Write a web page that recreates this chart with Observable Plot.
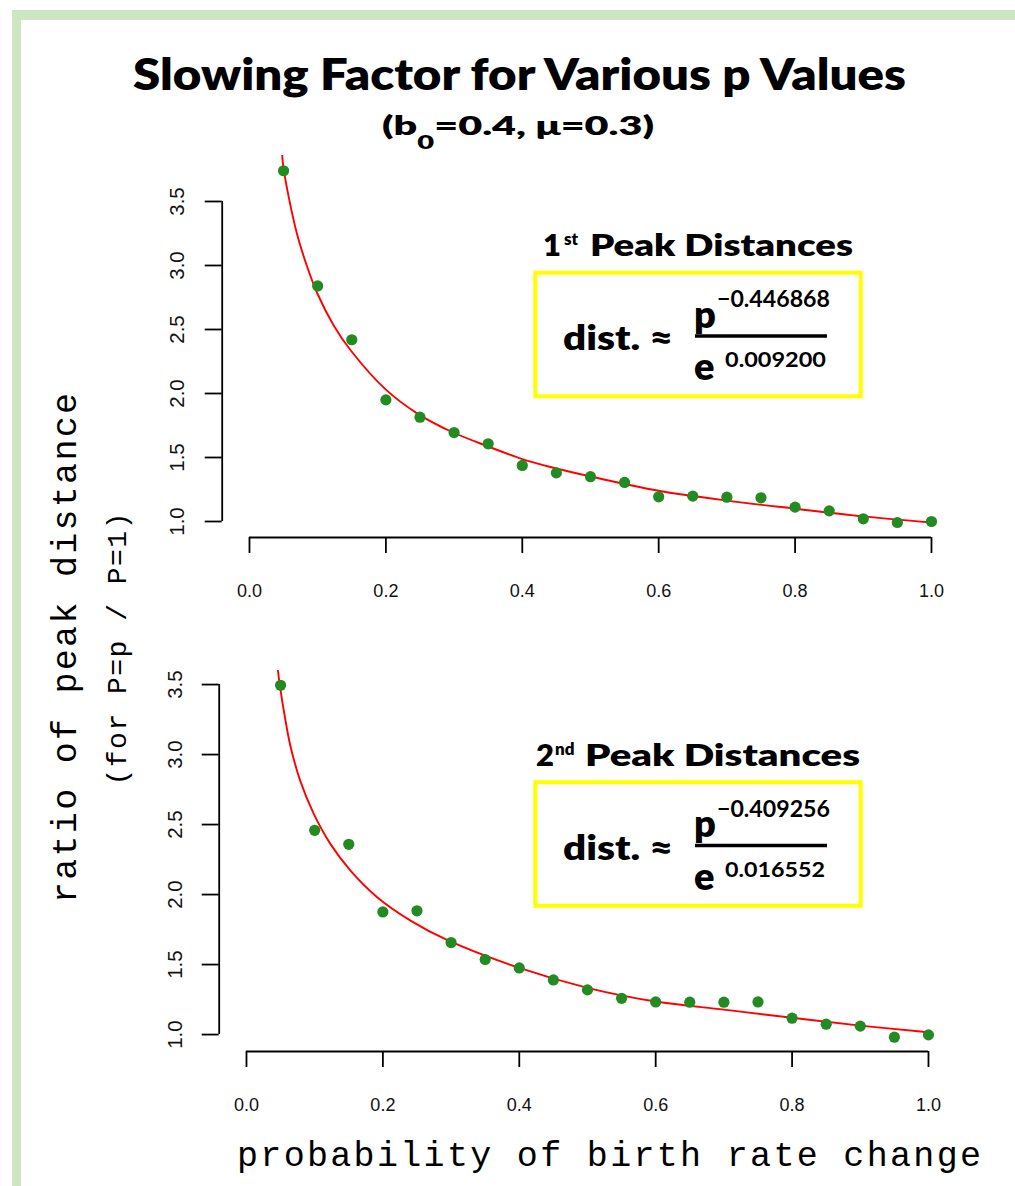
<!DOCTYPE html>
<html><head><meta charset="utf-8">
<script src="https://cdn.jsdelivr.net/npm/d3@7"></script>
<script src="https://cdn.jsdelivr.net/npm/@observablehq/plot@0.6"></script>
<style>
html,body{margin:0;padding:0;background:#fff;}
#page{position:relative;width:1015px;height:1186px;overflow:hidden;background:#fff;}
#frame{position:absolute;left:12px;top:10px;width:1003px;height:1176px;border-top:10px solid #cce5c3;border-left:9px solid #cce5c3;box-sizing:border-box;}
.panel{position:absolute;left:0;}
.panel svg{background:transparent !important;max-width:none !important;}
#overlay{position:absolute;left:0;top:0;}
</style></head><body><div id="page"><div id="frame"></div></div>
<script>
// ---- data ----
const pValues = [0.05,0.10,0.15,0.20,0.25,0.30,0.35,0.40,0.45,0.50,0.55,0.60,0.65,0.70,0.75,0.80,0.85,0.90,0.95,1.00];
const peak1Ratio = [3.74,2.84,2.42,1.95,1.815,1.695,1.607,1.438,1.38,1.35,1.305,1.193,1.198,1.19,1.185,1.112,1.083,1.021,0.992,1.0];
const peak2Ratio = [3.495,2.459,2.359,1.876,1.884,1.657,1.536,1.476,1.39,1.319,1.259,1.233,1.231,1.231,1.233,1.117,1.074,1.06,0.981,0.998];
const fit1P = [0.048,0.0494,0.0577,0.07,0.0846,0.0992,0.1237,0.148,0.2,0.2458,0.2947,0.35,0.4,0.4413,0.5,0.6,0.7,0.8,0.9,1.0];
const fit1Ratio = [3.86,3.78,3.53,3.24,2.99,2.785,2.53,2.34,2.03,1.845,1.705,1.586,1.488,1.426,1.352,1.24,1.163,1.10,1.04,0.992];
const fit2P = [0.0462,0.049,0.0572,0.0645,0.079,0.0987,0.123,0.1525,0.1916,0.2405,0.294,0.4,0.5,0.6,0.7,0.8,0.9,1.0];
const fit2Ratio = [3.60,3.49,3.243,3.06,2.81,2.576,2.362,2.171,1.981,1.814,1.676,1.476,1.334,1.236,1.178,1.12,1.064,1.016];
const xTicks = [0,0.2,0.4,0.6,0.8,1.0];
const yTicks = [1.0,1.5,2.0,2.5,3.0,3.5];
const titleText = "Slowing Factor for Various p Values";
const panelHeads = [["1","st"],["2","nd"]];
const numExp = ["\u22120.446868","\u22120.409256"];
const denExp = ["0.009200","0.016552"];

const page = document.getElementById("page");

function makePanel(cfg){
  const pts = pValues.map((p,i)=>({p, v: cfg.values[i]}));
  const fit = cfg.fitP.map((p,i)=>({p, v: cfg.fitV[i]}));
  const chart = Plot.plot({
    width: 1015, height: cfg.height,
    marginLeft: cfg.ml, marginRight: cfg.mr, marginTop: cfg.mt, marginBottom: cfg.mb,
    x: {domain: [-0.04, 1.04]},
    y: {domain: cfg.yDomain},
    style: {fontFamily: "'Liberation Sans', Arial, sans-serif", background: "transparent", color: "#000"},
    marks: [
      Plot.ruleY([cfg.yDomain[0]], {x1: 0, x2: 1, stroke: "#000", strokeWidth: 1.8}),
      Plot.axisX(xTicks, {tickSize: 16, fill: "none", label: null, stroke: "#000", strokeWidth: 1.8}),
      Plot.ruleX([-0.04], {y1: 1.0, y2: 3.5, stroke: "#000", strokeWidth: 1.8}),
      Plot.axisY(yTicks, {tickSize: 17, fill: "none", label: null, stroke: "#000", strokeWidth: 1.8}),
      Plot.text(xTicks, {x: d=>d, frameAnchor: "bottom", dy: cfg.xLabDy, lineAnchor: "bottom", textAnchor: "middle", text: d=>d.toFixed(1), fontSize: 18, fill: "#111", ariaLabel: "xlabels"}),
      Plot.text(yTicks, {y: d=>d, frameAnchor: "left", dx: cfg.yLabDx, rotate: -90, lineAnchor: "middle", textAnchor: "middle", text: d=>d.toFixed(1), fontSize: 20.5, fill: "#111", ariaLabel: "ylabels"}),
      Plot.line(fit, {x: "p", y: "v", stroke: "#ff0000", strokeWidth: 1.9, curve: "catmull-rom", clip: true}),
      Plot.dot(pts, {x: "p", y: "v", r: 5.6, fill: "#228b22", stroke: "none"})
    ]
  });
  chart.querySelectorAll('g[aria-label="ylabels"] text').forEach(t=>{
    t.setAttribute("textLength", "21.7");
    t.setAttribute("lengthAdjust", "spacingAndGlyphs");
  });
  const div = document.createElement("div");
  div.className = "panel";
  div.style.top = cfg.top + "px";
  div.appendChild(chart);
  page.appendChild(div);
}

makePanel({values: peak1Ratio, fitP: fit1P, fitV: fit1Ratio, top: 140, height: 480,
  ml: 221.7, mr: 56.74, mt: 14.9, mb: 83, yDomain: [0.875, 3.86], xLabDy: 59.7, yLabDx: -45.2});
makePanel({values: peak2Ratio, fitP: fit2P, fitV: fit2Ratio, top: 640, height: 480,
  ml: 218.7, mr: 59.74, mt: 30.06, mb: 69, yDomain: [0.879, 3.6], xLabDy: 59, yLabDx: -43.7});

// ---- overlay: titles, axis labels, annotations ----
const svg = d3.create("svg").attr("id","overlay").attr("width",1015).attr("height",1186)
  .attr("viewBox","0 0 1015 1186");
const head = "Lato, 'Noto Sans', sans-serif";
const mono = "'Liberation Mono', 'DejaVu Sans Mono', monospace";
function t(o){
  const e = svg.append("text").attr("x", o.x ?? 0).attr("y", o.y ?? 0)
    .attr("font-family", o.family || head).attr("font-size", o.size)
    .attr("font-weight", o.weight || 400).attr("fill", "#000")
    .attr("text-anchor", o.anchor || "start");
  if (o.len) e.attr("textLength", o.len).attr("lengthAdjust", o.adjust || "spacingAndGlyphs");
  if (o.transform) e.attr("transform", o.transform);
  if (o.text !== undefined) e.text(o.text);
  return e;
}
t({x: 133, y: 90, text: titleText, size: 44, weight: 800, len: 773});
const sub = t({x: 382, y: 135, size: 27, weight: 800, len: 272});
sub.append("tspan").text("(b");
sub.append("tspan").attr("dy", 14).attr("font-size", 19).text("0");
sub.append("tspan").attr("dy", -14).text("=0.4, \u03bc=0.3)");

t({x: 237, y: 1166, text: "probability of birth rate change", size: 35, family: mono, len: 744, adjust: "spacing"});
t({anchor: "middle", transform: "translate(76,648) rotate(-90)", text: "ratio of peak distance", size: 35, family: mono, len: 510, adjust: "spacing"});
t({anchor: "middle", transform: "translate(126,649) rotate(-90)", text: "(for P=p / P=1)", size: 28, family: mono, len: 273, adjust: "spacing"});

const headX = [[543,564,590,263],[536,555,585,275]];
[0,1].forEach(k=>{
  const o = k===0 ? 0 : 509.5;
  const ho = k===0 ? 0 : 510;
  const hx = headX[k];
  t({x: hx[0], y: 256+ho, text: panelHeads[k][0], size: 31, weight: 800});
  t({x: hx[1], y: 245+ho, text: panelHeads[k][1], size: 17, weight: 800});
  t({x: hx[2], y: 256+ho, text: "Peak Distances", size: 31, weight: 800, len: hx[3]});
  svg.append("rect").attr("x", 535.3).attr("y", 272.7+o).attr("width", 325.4).attr("height", 123.6)
    .attr("fill","none").attr("stroke","#ffff00").attr("stroke-width",4);
  t({x: 563, y: 350+o, text: "dist. \u2248", size: 33, weight: 800, len: 110});
  t({x: 694, y: 327.5+o, text: "p", size: 38, weight: 800});
  t({x: 717, y: 307+o, text: numExp[k], size: 22, weight: 700, len: 113});
  svg.append("line").attr("x1",695).attr("x2",827).attr("y1",336+o).attr("y2",336+o)
    .attr("stroke","#000").attr("stroke-width",3.5);
  t({x: 694, y: 380+o, text: "e", size: 38, weight: 800});
  t({x: 725, y: 367+o, text: denExp[k], size: 21, weight: 700, len: k===0?101:100});
});
page.appendChild(svg.node());
</script></body></html>
